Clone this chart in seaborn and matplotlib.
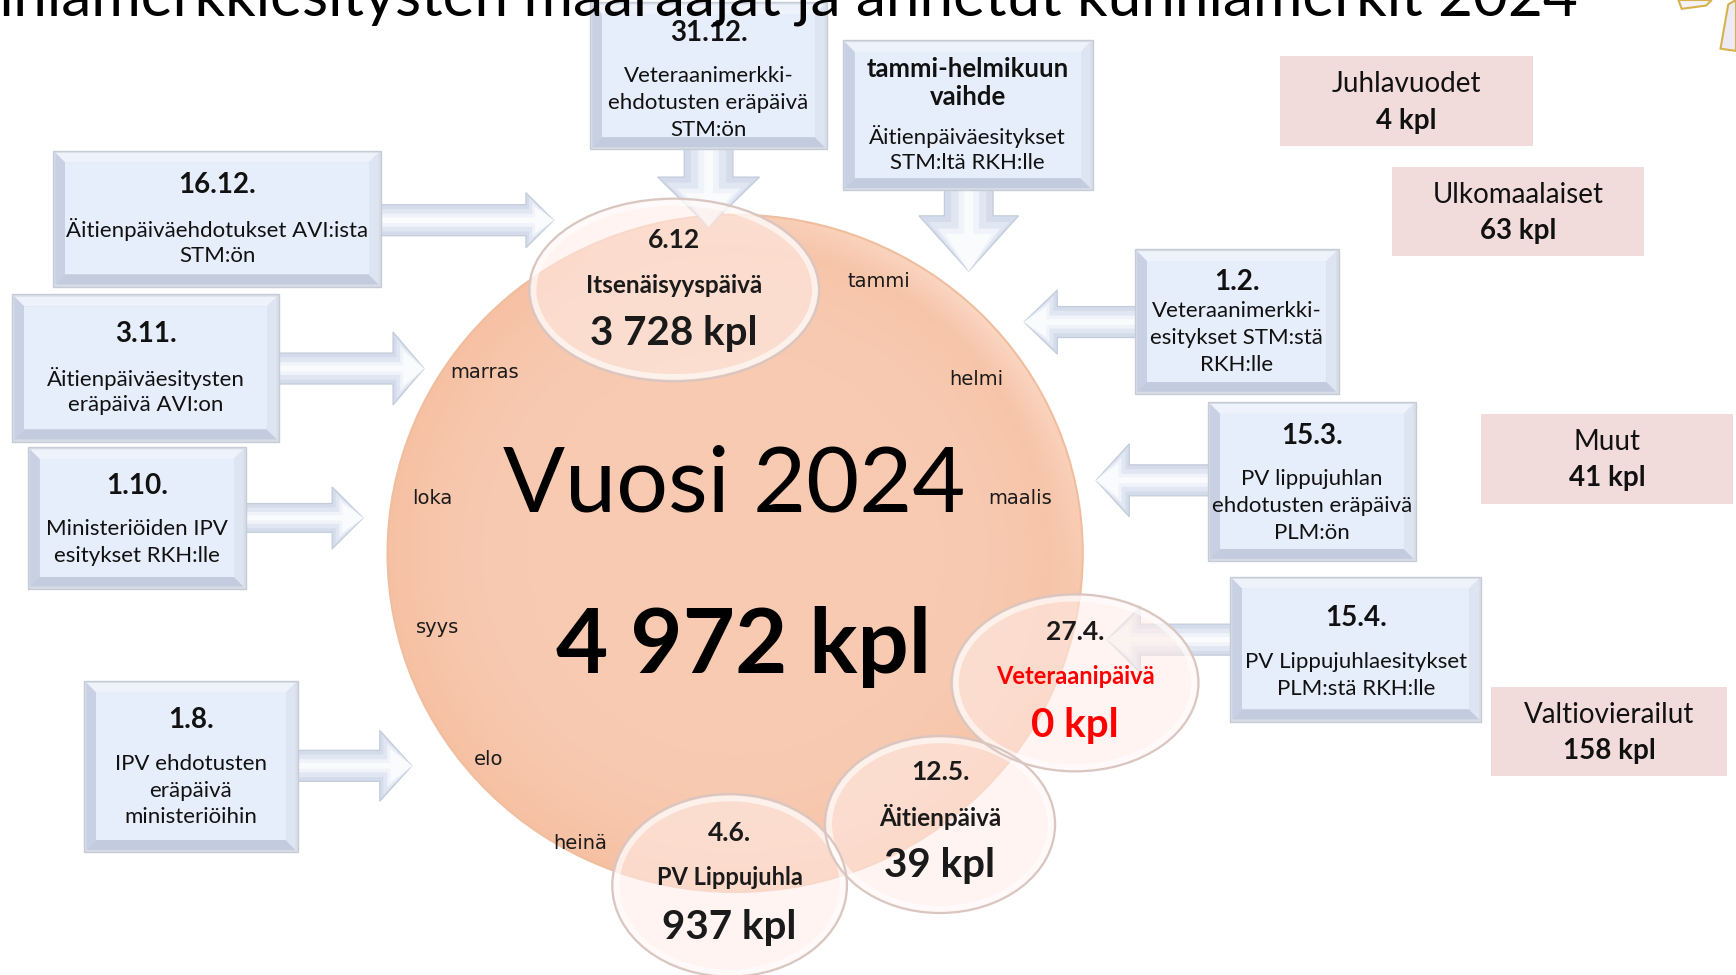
import numpy as np
import matplotlib
matplotlib.use("Agg")
import matplotlib.pyplot as plt
from matplotlib.patches import Ellipse, Polygon, Rectangle
import seaborn as sns

# ---------------- data ----------------
title_text = "Kunniamerkkiesitysten määräajat ja annetut kunniamerkit 2024"
title_visible = "niamerkkiesitysten määräajat ja annetut kunniamerkit 2024"
year_label = "Vuosi 2024"
year_total = 4972
months = ["tammi", "helmi", "maalis", "marras", "loka", "syys", "elo", "heinä"]
holiday_dates = ["6.12", "27.4.", "12.5.", "4.6."]
holiday_names = ["Itsenäisyyspäivä", "Veteraanipäivä", "Äitienpäivä", "PV Lippujuhla"]
holiday_counts = [3728, 0, 39, 937]
other_names = ["Juhlavuodet", "Ulkomaalaiset", "Muut", "Valtiovierailut"]
other_counts = [4, 63, 41, 158]
deadline_dates = ["31.12.", "tammi-helmikuun\nvaihde", "16.12.", "3.11.", "1.10.",
                  "1.8.", "1.2.", "15.3.", "15.4."]
deadline_texts = [
    "Veteraanimerkki-\nehdotusten eräpäivä\nSTM:ön",
    "Äitienpäiväesitykset\nSTM:ltä RKH:lle",
    "Äitienpäiväehdotukset AVI:ista\nSTM:ön",
    "Äitienpäiväesitysten\neräpäivä AVI:on",
    "Ministeriöiden IPV\nesitykset RKH:lle",
    "IPV ehdotusten\neräpäivä\nministeriöihin",
    "Veteraanimerkki-\nesitykset STM:stä\nRKH:lle",
    "PV lippujuhlan\nehdotusten eräpäivä\nPLM:ön",
    "PV Lippujuhlaesitykset\nPLM:stä RKH:lle",
]

# ---------------- layout (canvas units 1568 x 881) ----------------
W, H = 1568, 881
month_pos = [(794, 254), (882, 343), (921, 450), (438, 337), (390, 450),
             (395, 567), (441, 686), (524, 762)]
circle_geom = (664, 500, 628, 612)
ell_geom = [(609, 262, 262, 165), (971, 617, 223, 160), (849, 745, 208, 160),
            (659, 800, 212, 165)]
ell_text_y = [(217, 258, 301), (571, 611, 656), (698, 738, 782), (753, 793, 838)]
ell_name_size = [17.5, 17, 17.5, 17]
box_rects = [(535, 4, 745, 133), (763, 38, 985, 170), (50, 138, 342, 257),
             (13, 268, 250, 397), (27, 406, 220, 530), (78, 617, 267, 768),
             (1027, 227, 1207, 354), (1093, 365, 1277, 505), (1113, 523, 1336, 650)]
box_date_y = [30, 62, 167, 302, 439, 651, 255, 394, 558]
box_date_size = [20, 18.5, 20, 20, 20, 20, 20, 20, 20]
box_text_y = [69, 123, 207, 342, 478, 690, 281, 433, 598]
line_step = 24.3
# (x_start, y_start, x_tip, y_tip, shaft_half, head_half, head_len)
arrow_specs = [
    (640, 115, 640, 205, 22, 46, 45),
    (875, 160, 875, 245, 22, 45, 50),
    (330, 199, 500, 199, 14, 25, 25),
    (240, 333, 383, 333, 14, 33, 28),
    (210, 468, 328, 468, 13, 28, 28),
    (255, 692, 372, 692, 14, 32, 29),
    (1040, 291, 925, 291, 14, 29, 30),
    (1105, 434, 990, 434, 14, 33, 30),
    (1125, 578, 1000, 578, 14, 30, 30),
]
pink_rects = [(1156, 51, 1385, 132), (1257, 151, 1485, 231),
              (1338, 374, 1565, 455), (1347, 621, 1560, 701)]

sns.set_theme(style="white")
plt.rcParams['font.family'] = ['Lato', 'DejaVu Sans']

fig = plt.figure(figsize=(17.36, 9.75), dpi=100)
ax = fig.add_axes([0, 0, 1, 1])
ax.set_xlim(0, W)
ax.set_ylim(H, 0)
ax.axis('off')

VERD = ['DejaVu Sans']


def fmt(n):
    return f"{n:,}".replace(",", " ") + " kpl"


# ---- big circle with soft radial shading ----
cx, cy, cw, ch = circle_geom
circ = Ellipse((cx, cy), cw, ch, fc='none', ec='#F0BE9F', lw=1.5, zorder=2)
ax.add_patch(circ)
yy, xx = np.mgrid[-1:1:500j, -1:1:500j]
rr = np.sqrt(xx ** 2 + yy ** 2)
base = np.array([248, 202, 177]) / 255
edge = np.array([246, 192, 163]) / 255
t = np.clip((rr - 0.6) / 0.4, 0, 1) ** 2
img = base * (1 - t)[..., None] + edge * t[..., None]
ang = np.arctan2(-yy, xx)
hl = np.clip((rr - 0.9) / 0.1, 0, 1) * np.clip(np.cos(ang - 0.8), 0, 1) ** 2 * 0.5
img = img * (1 - hl)[..., None] + np.array([1, 0.93, 0.88]) * hl[..., None]
im = ax.imshow(img, extent=(cx - cw / 2, cx + cw / 2, cy + ch / 2, cy - ch / 2),
               zorder=1, aspect='auto', interpolation='bilinear')
clip = Ellipse((cx, cy), cw, ch, transform=ax.transData)
im.set_clip_path(clip)


# ---- arrows ----
def arrow_poly(x0, y0, x1, y1, sh, hh, hl):
    d = np.array([x1 - x0, y1 - y0], float)
    L = np.hypot(*d)
    u = d / L
    n = np.array([-u[1], u[0]])
    p0 = np.array([x0, y0], float)
    hb = p0 + u * (L - hl)
    tip = np.array([x1, y1], float)
    pts = [p0 + n * sh, hb + n * sh, hb + n * hh, tip,
           hb - n * hh, hb - n * sh, p0 - n * sh]
    return pts


for (x0, y0, x1, y1, sh, hh, hl) in arrow_specs:
    layers = [(1.0, '#D2DAEA', '#C2CBDB'), (0.72, '#E2E8F3', 'none'),
              (0.42, '#F1F4FA', 'none'), (0.18, '#FBFCFE', 'none')]
    for k, (f, fc, ec) in enumerate(layers):
        pts = arrow_poly(x0, y0, x1, y1, sh * f, hh * (0.35 + 0.65 * f) if f < 1 else hh,
                         hl * (0.6 + 0.4 * f))
        ax.add_patch(Polygon(pts, closed=True, fc=fc, ec=ec, lw=0.9, zorder=3 + k * 0.01,
                             alpha=0.95))


# ---- bevelled blue boxes ----
def draw_box(x0, y0, x1, y1, z=5):
    b = 9
    ax.add_patch(Rectangle((x0 - 2, y0 - 2), x1 - x0 + 4, y1 - y0 + 4, fc='#D8DDE5',
                           ec='#C6CCD7', lw=1, zorder=z))
    ax.add_patch(Polygon([(x0, y0), (x1, y0), (x1 - b, y0 + b), (x0 + b, y0 + b)],
                         fc='#EEF2FA', ec='none', zorder=z + 0.1))
    ax.add_patch(Polygon([(x0, y0), (x0 + b, y0 + b), (x0 + b, y1 - b), (x0, y1)],
                         fc='#C8D1E4', ec='none', zorder=z + 0.1))
    ax.add_patch(Polygon([(x0, y1), (x0 + b, y1 - b), (x1 - b, y1 - b), (x1, y1)],
                         fc='#C3CCDF', ec='none', zorder=z + 0.1))
    ax.add_patch(Polygon([(x1, y0), (x1, y1), (x1 - b, y1 - b), (x1 - b, y0 + b)],
                         fc='#DEE5F2', ec='none', zorder=z + 0.1))
    ax.add_patch(Rectangle((x0 + b, y0 + b), x1 - x0 - 2 * b, y1 - y0 - 2 * b,
                           fc='#E7EEFB', ec='none', zorder=z + 0.2))


for i, (x0, y0, x1, y1) in enumerate(box_rects):
    draw_box(x0, y0, x1, y1)
    xc = (x0 + x1) / 2
    dl = deadline_dates[i].split("\n")
    for j, s in enumerate(dl):
        ax.text(xc, box_date_y[i] + j * 26, s, ha='center', va='center',
                fontsize=box_date_size[i], fontweight='bold', color='#111111', zorder=8)
    for j, s in enumerate(deadline_texts[i].split("\n")):
        ax.text(xc, box_text_y[i] + j * line_step, s, ha='center', va='center',
                fontsize=16, color='#111111', zorder=8)

# ---- pink category boxes ----
for (x0, y0, x1, y1), nm, c in zip(pink_rects, other_names, other_counts):
    ax.add_patch(Rectangle((x0, y0), x1 - x0, y1 - y0, fc='#F2DCDB', ec='none', zorder=5))
    xc = (x0 + x1) / 2
    ax.text(xc, y0 + 25, nm, ha='center', va='center', fontsize=20, color='#111111', zorder=8)
    ax.text(xc, y0 + 58, fmt(c), ha='center', va='center', fontsize=20,
            fontweight='bold', color='#111111', zorder=8)

# ---- holiday ellipses ----
for i, (ex, ey, ew, eh) in enumerate(ell_geom):
    ax.add_patch(Ellipse((ex, ey), ew, eh, fc=(1.0, 0.93, 0.91, 0.58), ec='none', zorder=6))
    ax.add_patch(Ellipse((ex, ey), ew - 8, eh - 8, fc='none', ec=(1, 1, 1, 0.6), lw=4,
                         zorder=6.1))
    ax.add_patch(Ellipse((ex, ey), ew, eh, fc='none', ec='#D9C6C1', lw=1.6, zorder=6.2))
    red = (i == 1)
    col = '#FF0000' if red else '#1A1A1A'
    ty = ell_text_y[i]
    ax.text(ex, ty[0], holiday_dates[i], ha='center', va='center', fontsize=19,
            fontweight='bold', color='#1A1A1A', zorder=9)
    ax.text(ex, ty[1], holiday_names[i], ha='center', va='center',
            fontsize=ell_name_size[i], fontweight='bold', color=col, zorder=9)
    ax.text(ex, ty[2], fmt(holiday_counts[i]), ha='center', va='center', fontsize=29,
            fontweight='bold', color=col, zorder=9)

# ---- months ----
for m, (mx, my) in zip(months, month_pos):
    ax.text(mx, my, m, ha='center', va='center', fontsize=14, family=VERD,
            color='#1A1A1A', zorder=7)

# ---- centre texts ----
ax.text(663, 462.5, year_label, ha='center', va='baseline', fontsize=66,
        color='#000000', zorder=7)
ax.text(672, 608, fmt(year_total), ha='center', va='baseline', fontsize=65,
        fontweight='bold', color='#000000', zorder=7)

# ---- title (cut by the top edge) ----
fig.canvas.draw()
rend = fig.canvas.get_renderer()
probe = ax.text(0, 0, title_visible, fontsize=40)
wpx = probe.get_window_extent(rend).width
probe.remove()
target_px = (1425 - 12) * (1736 / W)
tfs = 40 * target_px / wpx
ax.text(1425, 14, title_text, ha='right', va='baseline', fontsize=tfs,
        color='#000000', zorder=10)

# ---- decoration in the top right corner ----
ax.add_patch(Polygon([(1516, 0), (1546, 0), (1541, 5), (1519, 8)], fc='#F4F1F7',
                     ec='#D6B24C', lw=1.5, zorder=4))
ax.add_patch(Polygon([(1568, 0), (1561, 4), (1554, 44), (1568, 46)], fc='#EEEAF5',
                     ec='#D6B24C', lw=1.5, zorder=4))

ax.set_xlim(0, W)
ax.set_ylim(H, 0)
fig.savefig("out.png", dpi=100)
